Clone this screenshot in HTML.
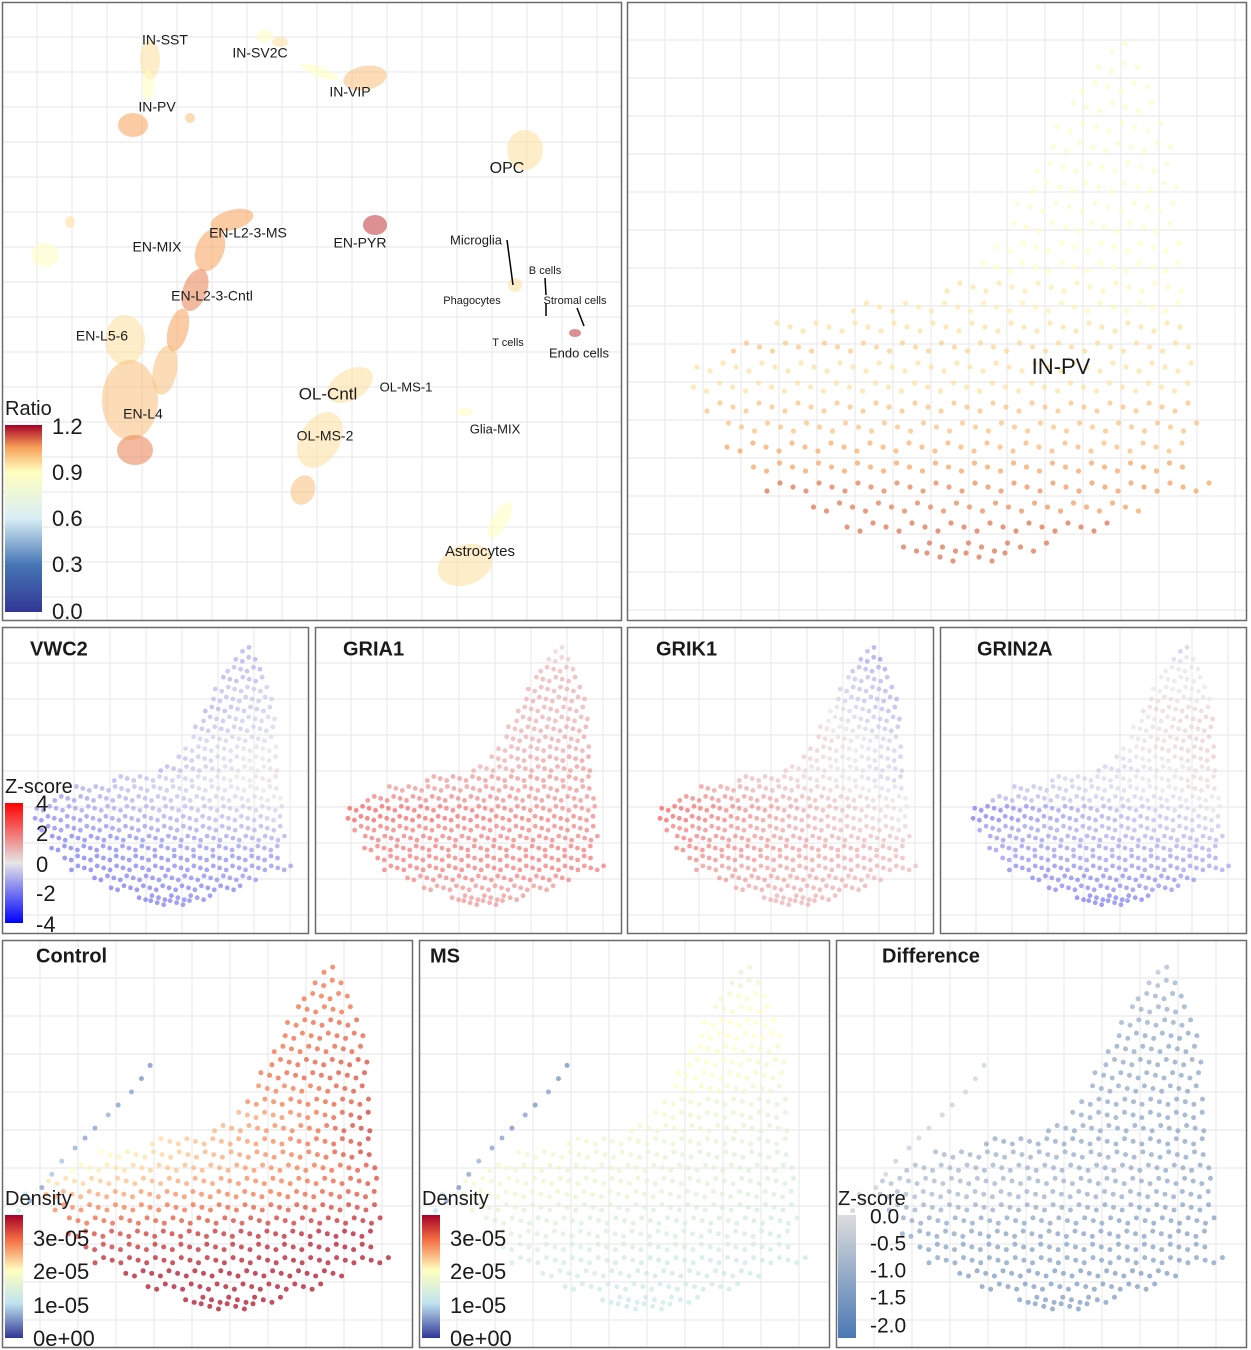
<!DOCTYPE html>
<html><head><meta charset="utf-8"><style>
body{margin:0;background:#fff}
svg{display:block;font-family:"Liberation Sans",sans-serif}
</style></head><body>
<svg id="fig" width="1251" height="1350" viewBox="0 0 1251 1350" xmlns="http://www.w3.org/2000/svg">
<defs>
<linearGradient id="gRatio" x1="0" y1="1" x2="0" y2="0">
<stop offset="0" stop-color="#313695"/><stop offset="0.25" stop-color="#4575b4"/><stop offset="0.5" stop-color="#d8eef5"/><stop offset="0.75" stop-color="#ffffbf"/><stop offset="0.88" stop-color="#f8a05a"/><stop offset="1" stop-color="#a50026"/></linearGradient>
<linearGradient id="gZ" x1="0" y1="1" x2="0" y2="0">
<stop offset="0" stop-color="#0000ff"/><stop offset="0.5" stop-color="#e6e6e6"/><stop offset="1" stop-color="#ff0000"/></linearGradient>
<linearGradient id="gD" x1="0" y1="1" x2="0" y2="0">
<stop offset="0" stop-color="#313695"/><stop offset="0.28" stop-color="#bfe3ef"/><stop offset="0.55" stop-color="#ffffbf"/><stop offset="0.8" stop-color="#f46d43"/><stop offset="1" stop-color="#a50026"/></linearGradient>
<linearGradient id="gDiff" x1="0" y1="1" x2="0" y2="0">
<stop offset="0" stop-color="#4a78b4"/><stop offset="1" stop-color="#dcdcdc"/></linearGradient>
</defs>
</svg>
<script>
// ---- shared IN-PV embedding shape (UMAP units) ----
const rowY    = [45,65,85,105,125,145,165,185,205,225,245,265,285,305,325,345,365,385,405,425,445,465,485,505,525,545,555];
const rowXmin = [485,465,455,440,430,420,410,400,390,380,370,350,320,220,150,100,70,60,80,95,100,120,140,180,220,270,300];
const rowXmax = [510,520,525,535,540,545,548,550,552,555,557,558,560,562,563,565,568,570,572,570,565,560,585,520,490,420,380];
const armX = [42,60,75,90,110,125,140,160,175,195,210,223,25,35];
const armY = [395,375,355,335,315,300,285,265,250,230,210,190,410,385];
// ---- values per row (left edge / right edge) ----
const ratioL = [0.85,0.85,0.9,0.85,0.9,0.85,0.9,0.9,0.85,0.9,0.9,0.9,0.95,0.95,0.95,1.0,0.95,0.95,1.0,1.0,1.05,1.05,1.1,1.1,1.1,1.1,1.1];
const ratioR = [0.9,0.85,0.85,0.85,0.85,0.85,0.85,0.85,0.85,0.85,0.9,0.9,0.9,0.9,0.95,0.95,0.95,0.95,1.0,1.0,1.0,1.05,1.05,1.05,1.1,1.1,1.1];
const vwc2L = [-1,-1,-0.8,-1,-0.8,-0.8,-1,-0.8,-0.8,-0.5,-0.5,-0.8,-1,-1,-1.2,-1.5,-1.5,-1.8,-1.8,-2,-2,-2,-2,-2,-2,-2,-2];
const vwc2R = [-1.2,-1,-1,-0.8,-0.5,-0.5,-0.5,-0.3,-0.3,-0.2,0,0.2,0.3,0.3,0.2,0,-0.3,-0.5,-0.8,-1,-1.2,-1.5,-1.5,-1.5,-1.8,-1.8,-1.8];
const gria1L = [0.3,0.5,1,1,1,1,1,1,1,1,1,1,1,1.5,1.5,2,2.5,2.5,2,2,2,2,2,1.8,1.5,1.5,1.5];
const gria1R = [0.5,0.5,0.8,1,1,1,1,1,1.2,1.2,1.2,1.5,1.5,1.5,1.5,1.5,1.5,1.8,1.8,1.8,2,2,2,1.8,1.5,1.5,1.5];
const grik1L = [-1,-1,-0.8,-0.5,-0.5,-0.3,0,0,0.3,0.5,0.5,0.5,0.5,1,1.5,2,2.5,2.5,2,2,2,1.8,1.5,1.5,1.2,1,1];
const grik1R = [-1.5,-1.5,-1.2,-1,-1,-1,-1,-0.8,-0.8,-0.5,-0.5,-0.5,-0.5,-0.5,-0.3,0,0,0,0.3,0.5,0.8,0.8,0.8,0.8,1,1,1];
const grin2aL = [-0.5,-0.3,0,0,0,0.3,0.3,0,0,0,0,-0.3,-0.5,-0.5,-0.8,-1,-2,-2,-1.5,-1.5,-1.5,-1.5,-1.8,-1.8,-1.8,-2,-2];
const grin2aR = [-0.3,0,0,0,0,0,0.3,0.5,0.5,0.5,0.5,0.5,0.3,0.3,0.3,0,0,-0.3,-0.5,-0.8,-1,-1.2,-1.2,-1.5,-1.5,-1.8,-1.8];
const ctrlL = [3,3,3,3,3,3,3,3,3,2.8,2.8,2.5,2.5,2.2,2,2,2.2,2.5,2.8,3,3.2,3.3,3.4,3.5,3.5,3.5,3.5];
const ctrlR = [3,3,3,3,3.1,3.1,3.1,3.2,3.2,3.2,3.2,3.3,3.3,3.3,3.3,3.2,3.2,3.2,3.3,3.4,3.5,3.5,3.5,3.5,3.5,3.5,3.5];
const msL = [1.5,1.5,1.8,1.8,2,2,2,2,2,2,1.8,1.8,1.8,1.8,1.8,1.8,1.8,1.8,1.6,1.5,1.5,1.4,1.3,1.3,1.2,1.2,1.2];
const msR = [1.8,1.8,2,2,2,2,1.8,1.8,1.8,1.6,1.5,1.5,1.5,1.5,1.4,1.4,1.4,1.4,1.3,1.3,1.3,1.3,1.2,1.2,1.2,1.2,1.2];
const diffL = [-0.5,-0.6,-0.8,-0.8,-0.9,-1,-1,-1,-1,-1,-1,-1,-1,-1,-0.8,-0.7,-0.6,-0.6,-0.8,-1,-1.1,-1.2,-1.2,-1.3,-1.3,-1.3,-1.3];
const diffR = [-0.8,-0.9,-1,-1,-1,-1.1,-1.1,-1.1,-1.1,-1.1,-1.1,-1.1,-1.1,-1.1,-1.1,-1.1,-1.1,-1.1,-1.2,-1.2,-1.2,-1.2,-1.2,-1.3,-1.3,-1.3,-1.3];
const armCtrl = [0.6,0.6,0.8,0.8,0.7,0.6,0.6,0.7,0.6,0.6,0.5,0.5,1.2,1.0];
const armMs = [0.6,0.5,0.6,0.7,0.6,0.6,0.5,0.6,0.5,0.6,0.5,0.5,1.0,1.0];
const armDiff = [-0.3,-0.3,-0.2,-0.3,-0.3,-0.2,-0.2,-0.3,-0.3,-0.2,-0.2,-0.2,-0.3,-0.3];
// ---- overview UMAP clusters: x, y, rx, ry, rotation, ratio ----
const clX  = [150,148,133,190,265,280,320,365,525,45,70,232,210,195,178,165,125,130,135,375,515,575,350,320,303,465,500,465];
const clY  = [60,85,125,118,36,42,72,78,150,255,222,220,250,290,330,370,340,400,450,225,285,333,385,440,490,412,520,565];
const clRX = [10,6,15,5,8,8,20,22,18,14,5,22,14,12,10,12,20,28,18,12,7,6,25,20,12,8,8,28];
const clRY = [20,15,12,5,6,5,5,12,20,12,6,10,22,22,22,25,25,40,15,10,7,4,15,30,15,4,20,20];
const clRot= [0,0,0,0,0,0,20,-10,0,0,0,-15,20,20,15,10,0,0,0,0,0,0,-30,30,20,0,30,-20];
const clVal= [0.95,0.9,1.05,1.0,0.9,0.95,0.9,1.0,0.95,0.9,0.95,1.05,1.05,1.08,1.05,1.0,0.95,1.0,1.08,1.15,0.95,1.15,0.95,0.95,1.0,0.9,0.9,0.95];

const svg=document.getElementById('fig');
const NS='http://www.w3.org/2000/svg';
function el(tag,attrs,parent){const e=document.createElementNS(NS,tag);for(const k in attrs)e.setAttribute(k,attrs[k]);(parent||svg).appendChild(e);return e;}
function hex(c){return [parseInt(c.slice(1,3),16),parseInt(c.slice(3,5),16),parseInt(c.slice(5,7),16)];}
function ramp(stops,cols,v){if(v<=stops[0])return cols[0];for(let i=1;i<stops.length;i++){if(v<=stops[i]){const t=(v-stops[i-1])/(stops[i]-stops[i-1]);const a=hex(cols[i-1]),b=hex(cols[i]);return 'rgb('+a.map((x,j)=>Math.round(x+(b[j]-x)*t)).join(',')+')';}}return cols[cols.length-1];}
const ratioCol=v=>ramp([0,0.3,0.6,0.9,1.05,1.2],['#313695','#4575b4','#d8eef5','#ffffbf','#f8a05a','#a50026'],v);
const zCol=v=>ramp([-4,0,4],['#0000ff','#e6e6e6','#ff0000'],v);
const dCol=v=>ramp([0,1,2,3,3.6],['#313695','#bfe3ef','#ffffbf','#f46d43','#a50026'],v);
const diffCol=v=>ramp([-2,0],['#4a78b4','#dcdcdc'],v);

function panel(name,x,y,w,h,gs){
  const g=el('g',{});
  
  
  for(let gx=x+gs;gx<x+w;gx+=gs)el('line',{x1:gx,y1:y,x2:gx,y2:y+h,stroke:'#ebebeb','stroke-width':1.2},g);
  for(let gy=y+gs;gy<y+h;gy+=gs)el('line',{x1:x,y1:gy,x2:x+w,y2:gy,stroke:'#ebebeb','stroke-width':1.2},g);
  const b=el('rect',{x:x+0.5,y:y+0.5,width:w-1,height:h-1,fill:'none',stroke:'#6a6a6a','stroke-width':1.5},g);
  
  
  return g;
}
function shapeDots(g,x,y,w,h,L,R,col,r,op,arm){
  const sx=v=>x+v/619*w, sy=v=>y+v/618*h;
  for(let i=0;i<rowY.length;i++){
    const step=13, off=(i%2)*6.5;
    for(let xv=rowXmin[i]+off;xv<=rowXmax[i];xv+=step){
      const t=(xv-rowXmin[i])/Math.max(1,rowXmax[i]-rowXmin[i]);
      const v=L[i]+(R[i]-L[i])*t;
      const c=el('circle',{cx:sx(xv).toFixed(1),cy:sy(rowY[i]+((Math.round(xv)%3)-1)*4).toFixed(1),r:r,fill:col(v),'fill-opacity':op},g);
      
      
    }
  }
  if(arm){for(let k=0;k<armX.length;k++){
    const c=el('circle',{cx:sx(armX[k]),cy:sy(armY[k]),r:r,fill:col(arm[k]),'fill-opacity':op},g);
    
    
  }}
}
function txt(g,s,x,y,size,opts){
  const t=el('text',Object.assign({x:x,y:y,'font-size':size,fill:'#1a1a1a'},opts||{}),g);
  t.textContent=s;return t;
}
function legend(g,name,title,bx,by,bw,bh,grad,labels,ly,lx,ls,tsize){
  const lg=el('g',{},g);
  
  
  txt(lg,title,bx,by-10,tsize);
  el('rect',{x:bx,y:by,width:bw,height:bh,fill:'url(#'+grad+')'},lg);
  for(let i=0;i<labels.length;i++){txt(lg,labels[i],lx,ly[i],ls,{'dominant-baseline':'middle'});}
}

// ===== Panel A: overview =====
const gA=panel('umap-overview-panel',2,2,620,619,35);
for(let i=0;i<clX.length;i++){
  const e=el('ellipse',{cx:clX[i],cy:clY[i],rx:clRX[i],ry:clRY[i],transform:'rotate('+clRot[i]+' '+clX[i]+' '+clY[i]+')',fill:ratioCol(clVal[i]),'fill-opacity':0.55},gA);
  
  
}
const labs=[['IN-SST',165,41,14],['IN-SV2C',260,54,14],['IN-VIP',350,93,14],['IN-PV',157,108,14],['OPC',507,169,16],['EN-MIX',157,248,14],['EN-L2-3-MS',248,234,14],['EN-PYR',360,244,14],['EN-L2-3-Cntl',212,297,14],['EN-L5-6',102,337,14],['EN-L4',143,415,14],['Microglia',476,241,13],['B cells',545,271,11],['Phagocytes',472,301,11],['Stromal cells',575,301,11],['T cells',508,343,11],['Endo cells',579,354,13],['OL-Cntl',328,395,17],['OL-MS-1',406,388,13],['OL-MS-2',325,437,14],['Glia-MIX',495,430,13],['Astrocytes',480,552,15]];
for(const l of labs){const t=txt(gA,l[0],l[1],l[2],l[3],{'text-anchor':'middle','dominant-baseline':'middle'});
  
  }
for(const s of [[507,240,513,285],[545,278,546,295],[546,303,546,316],[577,308,584,326]])el('line',{x1:s[0],y1:s[1],x2:s[2],y2:s[3],stroke:'#000','stroke-width':1.5},gA);
legend(gA,'ratio-legend','Ratio',5,425,37,187,'gRatio',['1.2','0.9','0.6','0.3','0.0'],[428,474,520,566,613],52,22,20);

// ===== Panel B: IN-PV zoom =====
const gB=panel('in-pv-zoom-panel',627,2,620,619,38);
shapeDots(gB,627,2,619,618,ratioL,ratioR,ratioCol,2.6,0.7,null);
txt(gB,'IN-PV',1061,368,22,{'text-anchor':'middle','dominant-baseline':'middle'});

// ===== Row 2: gene panels =====
const genes=[['VWC2',2,vwc2L,vwc2R,30],['GRIA1',315,gria1L,gria1R,343],['GRIK1',627,grik1L,grik1R,656],['GRIN2A',940,grin2aL,grin2aR,977]];
for(const gn of genes){
  const g=panel('gene-panel-'+gn[0].toLowerCase(),gn[1],627,307,307,36);
  shapeDots(g,gn[1],627,307,307,gn[2],gn[3],zCol,2.4,0.7,null);
  const t=txt(g,gn[0],gn[4],650,20,{'font-weight':'bold','dominant-baseline':'middle'});
  
  
  if(gn[0]==='VWC2')legend(g,'zscore-legend','Z-score',5,803,18,120,'gZ',['4','2','0','-2','-4'],[805,835,866,895,926],36,22,20);
}

// ===== Row 3: density panels =====
const dens=[['Control',2,ctrlL,ctrlR,armCtrl,dCol,36],['MS',419,msL,msR,armMs,dCol,430],['Difference',836,diffL,diffR,armDiff,diffCol,882]];
for(const d of dens){
  const g=panel('density-panel-'+d[0].toLowerCase(),d[1],940,411,408,38);
  shapeDots(g,d[1],940,411,408,d[2],d[3],d[5],2.5,0.75,d[4]);
  const t=txt(g,d[0],d[6],957,20,{'font-weight':'bold','dominant-baseline':'middle'});
  
  
  if(d[0]!=='Difference')legend(g,'density-legend','Density',d[1]+3,1215,18,123,'gD',['3e-05','2e-05','1e-05','0e+00'],[1240,1273,1307,1340],d[1]+31,22,20);
  else legend(g,'difference-legend','Z-score',838,1215,18,123,'gDiff',['0.0','-0.5','-1.0','-1.5','-2.0'],[1218,1245,1272,1299,1327],870,21,20);
}
</script>
</body></html>
